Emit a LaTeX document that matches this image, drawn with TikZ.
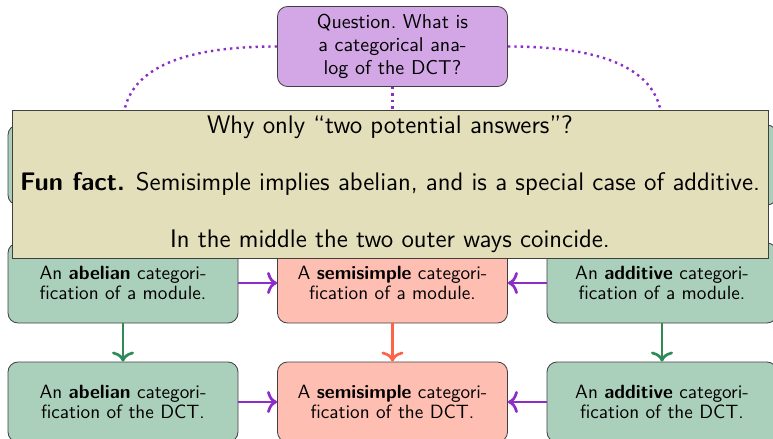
\documentclass[tikz,border=0pt]{standalone}
\usepackage{tikz}
\usetikzlibrary{arrows.meta}
\definecolor{qpurple}{RGB}{211,167,230}
\definecolor{abgreen}{RGB}{170,208,188}
\definecolor{ssred}{RGB}{255,190,178}
\definecolor{notebeige}{RGB}{228,223,187}
\definecolor{arpurple}{RGB}{142,44,200}
\definecolor{argreen}{RGB}{46,139,87}
\definecolor{arred}{RGB}{255,99,71}

\begin{document}
\begin{tikzpicture}[x=0.5pt,y=-0.5pt,
    box/.style={draw=black!75, rounded corners=5pt, minimum width=115pt, minimum height=40pt,
                inner sep=0pt, align=center, font=\sffamily\fontsize{9.6}{10}\selectfont},
    dotline/.style={arpurple, line width=1.2pt, dotted},
    arr/.style={line width=1.35pt, -{To[length=5pt,width=11pt]}}]

    \useasboundingbox (0,0) rectangle (773,439);

    % question
    \node (q) at (392.5,46.5) [box, fill=qpurple, font=\sffamily\fontsize{10}{11.5}\selectfont]
          {Question.\ What is\\ a categorical ana-\\log of the DCT?};

    % hidden row
    \foreach \n/\x in {ab0/123,ad0/662}
             { \node (\n) at (\x,165) [box, fill=abgreen] {};}
    \coordinate (ss0) at (392.5,125);
    \draw[dotline] (q.west) to[out=180,in=90] (ab0.north);
    \draw[dotline] (q.east) to[out=0,in=90] (ad0.north);
    \draw[dotline] (q.south) to (ss0);

    % modules
    \node (ab1) at (123,283) [box, fill=abgreen] {An \textbf{abelian} categori-\\fication of a module.};
    \node (ss1) at (392.5,283) [box, fill=ssred] {A \textbf{semisimple} categori-\\fication of a module.};
    \node (ad1) at (662,283) [box, fill=abgreen] {An \textbf{additive} categori-\\fication of a module.};

    % DCT
    \node (ab2) at (123,402) [box, fill=abgreen] {An \textbf{abelian} categori-\\fication of the DCT.};
    \node (ss2) at (392.5,402) [box, fill=ssred] {A \textbf{semisimple} categori-\\fication of the DCT.};
    \node (ad2) at (662,402) [box, fill=abgreen] {An \textbf{additive} categori-\\fication of the DCT.};

    \foreach \j in {1,2}
             { \draw[arr, arpurple] (ab\j) to (ss\j);
               \draw[arr, arpurple] (ad\j) to (ss\j);}
    \draw[arr, argreen] (ab1) to (ab2);
    \draw[arr, argreen] (ad1) to (ad2);
    \draw[arr, arred] (ss1) to (ss2);

    % note on top
    \node (note) at (390,184) [draw=black!75, fill=notebeige, minimum width=378pt, minimum height=74pt,
          inner sep=0pt, align=center, font=\sffamily\fontsize{12.7}{14.3}\selectfont]
          {Why only ``two potential answers''?\\[14.3pt]
           \textbf{Fun fact.} Semisimple implies abelian, and is a special case of additive.\\[14.3pt]
           In the middle the two outer ways coincide.};

\end{tikzpicture}
\end{document}
